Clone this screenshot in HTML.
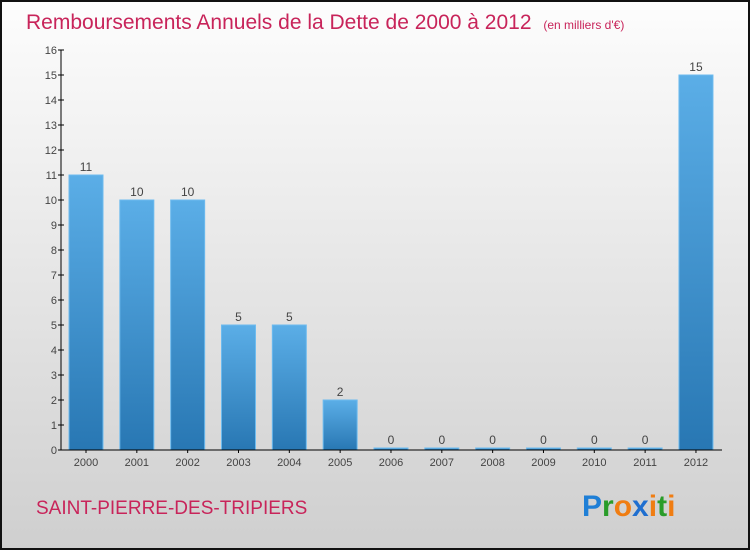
<!DOCTYPE html>
<html><head><meta charset="utf-8"><style>
body{margin:0;width:750px;height:550px;overflow:hidden}
svg{display:block;font-family:"Liberation Sans",sans-serif}
</style></head><body>
<svg id="chart" width="750" height="550">
<defs>
<linearGradient id="bg" x1="0" y1="0" x2="0" y2="1"><stop offset="0" stop-color="#fdfdfd"/><stop offset="1" stop-color="#cfcfcf"/></linearGradient>
<linearGradient id="bar" x1="0" y1="0" x2="0" y2="1"><stop offset="0" stop-color="#5baee7"/><stop offset="1" stop-color="#2877b3"/></linearGradient>
</defs>
<rect x="1" y="1" width="748" height="548" fill="url(#bg)" stroke="#111" stroke-width="2"/>
<text x="26" y="29" font-size="21" fill="#c8245a">Remboursements Annuels de la Dette de 2000 à 2012 <tspan font-size="12" dx="6">(en milliers d'€)</tspan></text>
<text x="36" y="514" font-size="19" fill="#c8245a">SAINT-PIERRE-DES-TRIPIERS</text>
<text x="582" y="516" font-size="30" font-weight="bold"><tspan fill="#1f7fd6">P</tspan><tspan fill="#2a9c2a">r</tspan><tspan fill="#f07d12">o</tspan><tspan fill="#1f6fd0">x</tspan><tspan fill="#f07d12">i</tspan><tspan fill="#2a9c2a">t</tspan><tspan fill="#f07d12">i</tspan></text>
<g id="plot"></g>
</svg>
<script>
const categories=["2000","2001","2002","2003","2004","2005","2006","2007","2008","2009","2010","2011","2012"];
const values=[11,10,10,5,5,2,0,0,0,0,0,0,15];
const yTicks=[0,1,2,3,4,5,6,7,8,9,10,11,12,13,14,15,16];
const NS="http://www.w3.org/2000/svg";
const g=document.getElementById('plot');
const x0=61,x1=722,yTop=50,yBot=450,yMax=16;
const y=v=>yBot-(v/yMax)*(yBot-yTop);
const step=50.83,first=86,bw=34;
const xc=i=>first+i*step;
function mk(t,a){const e=document.createElementNS(NS,t);for(const k in a)e.setAttribute(k,a[k]);g.appendChild(e);return e;}
categories.forEach((c,i)=>{
 const v=values[i];const h=Math.max(yBot-y(v),2);
 const r=mk('rect',{x:xc(i)-bw/2,y:yBot-h,width:bw,height:h,fill:'url(#bar)',stroke:'#6dbbef','stroke-width':1});
 
 
 const t=mk('text',{x:xc(i),y:yBot-h-4,'text-anchor':'middle','font-size':12,fill:'#444'});t.textContent=v;
 
 
 const l=mk('text',{x:xc(i),y:466,'text-anchor':'middle','font-size':11,fill:'#444'});l.textContent=c;
 
 
 const tk=mk('line',{x1:xc(i),x2:xc(i),y1:yBot,y2:yBot+3,stroke:'#000'});
 
 
});
yTicks.forEach(v=>{
 const t=mk('text',{x:57,y:y(v)+4,'text-anchor':'end','font-size':11,fill:'#444'});t.textContent=v;
 
 
 const tk=mk('line',{x1:x0-3,x2:x0+3,y1:y(v),y2:y(v),stroke:'#000'});
 
 
});
const ya=mk('line',{x1:x0,x2:x0,y1:yTop,y2:yBot,stroke:'#000','stroke-width':1});


const xa=mk('line',{x1:x0,x2:x1,y1:yBot,y2:yBot,stroke:'#000','stroke-width':1});


</script>
</body></html>
